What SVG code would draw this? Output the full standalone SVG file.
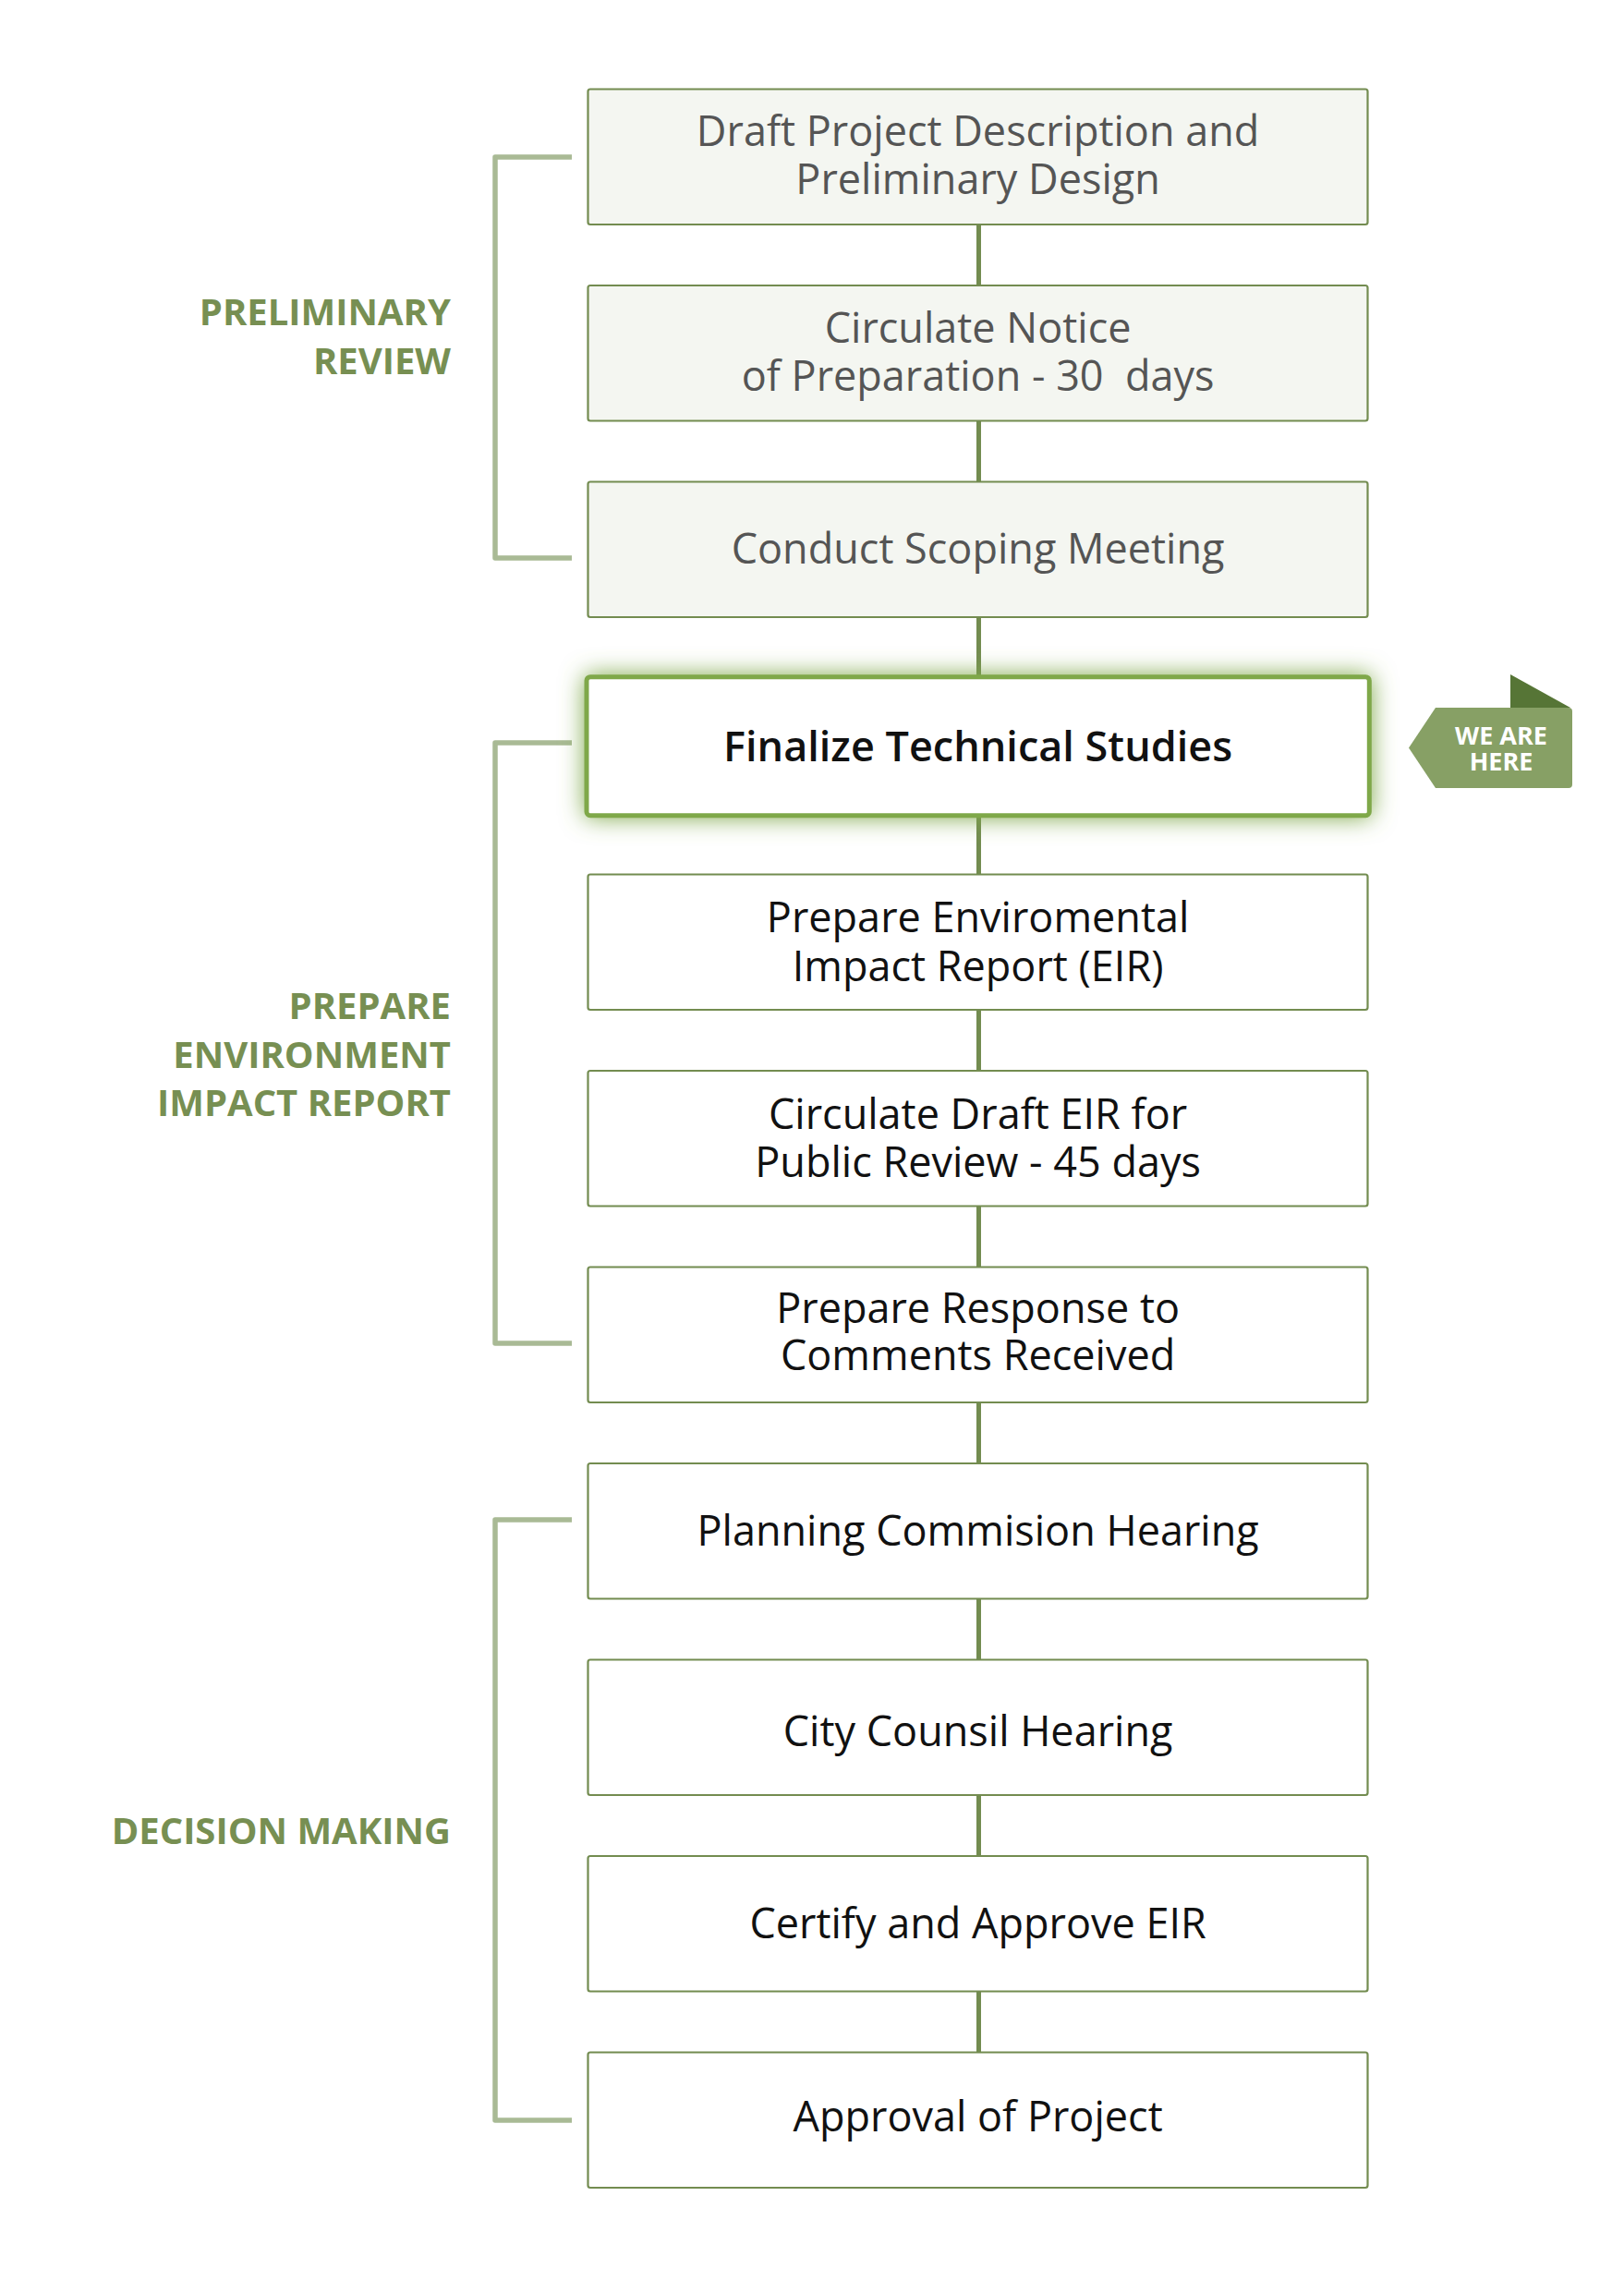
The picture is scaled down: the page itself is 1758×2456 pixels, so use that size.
<svg xmlns="http://www.w3.org/2000/svg" width="1758" height="2456" viewBox="0 0 1758 2456">
<defs>
<style>
.box{fill:#ffffff;stroke:#738c50;stroke-width:2.2}
.pre{fill:#f4f6f1}
.t{font-family:"Open Sans","Noto Sans","Liberation Sans",sans-serif;font-size:45px;text-anchor:middle;fill:#111111}
.g{fill:#555555}
.lab{font-family:"Open Sans","Noto Sans","Liberation Sans",sans-serif;font-size:40px;font-weight:700;text-anchor:end;fill:#778f52}
.conn{stroke:#738c50;stroke-width:5;fill:none}
.br{stroke:#a9ba95;stroke-width:5.5;fill:none;stroke-linejoin:round}
.tag{font-family:"Open Sans","Noto Sans","Liberation Sans",sans-serif;font-size:27px;font-weight:700;text-anchor:middle;fill:#ffffff}
</style>
<filter id="glow" x="-10%" y="-50%" width="120%" height="200%">
<feGaussianBlur in="SourceAlpha" stdDeviation="13" result="b"/>
<feFlood flood-color="#7fa84a" flood-opacity="1"/>
<feComposite in2="b" operator="in" result="gl"/>
<feMerge><feMergeNode in="gl"/><feMergeNode in="SourceGraphic"/></feMerge>
</filter>
</defs>
<rect width="1758" height="2456" fill="#ffffff"/>

<g id="connectors">
<line class="conn" x1="1059.5" y1="243" x2="1059.5" y2="309"/>
<line class="conn" x1="1059.5" y1="455.5" x2="1059.5" y2="521.5"/>
<line class="conn" x1="1059.5" y1="668" x2="1059.5" y2="731"/>
<line class="conn" x1="1059.5" y1="884" x2="1059.5" y2="946.5"/>
<line class="conn" x1="1059.5" y1="1093" x2="1059.5" y2="1159"/>
<line class="conn" x1="1059.5" y1="1305.5" x2="1059.5" y2="1371.5"/>
<line class="conn" x1="1059.5" y1="1518" x2="1059.5" y2="1584"/>
<line class="conn" x1="1059.5" y1="1730.5" x2="1059.5" y2="1796.5"/>
<line class="conn" x1="1059.5" y1="1943" x2="1059.5" y2="2009"/>
<line class="conn" x1="1059.5" y1="2155.5" x2="1059.5" y2="2221.5"/>
</g>

<g id="brackets">
<path class="br" d="M619,170 H536 V604 H619"/>
<path class="br" d="M619,804 H536 V1454 H619"/>
<path class="br" d="M619,1645 H536 V2295 H619"/>
</g>

<g id="label-preliminary">
<text class="lab" x="488" y="352">PRELIMINARY</text>
<text class="lab" x="488" y="404.6">REVIEW</text>
</g>
<g id="label-prepare">
<text class="lab" x="488" y="1103">PREPARE</text>
<text class="lab" x="488" y="1155.7">ENVIRONMENT</text>
<text class="lab" x="488" y="1207.5">IMPACT REPORT</text>
</g>
<g id="label-decision">
<text class="lab" x="488" y="1996">DECISION MAKING</text>
</g>

<g id="n1">
<rect class="box pre" x="636.5" y="96.5" width="844" height="146.5" rx="2.5"/>
<text class="t g" x="1058.6" y="158">Draft Project Description and</text>
<text class="t g" x="1058.6" y="209.5">Preliminary Design</text>
</g>
<g id="n2">
<rect class="box pre" x="636.5" y="309" width="844" height="146.5" rx="2.5"/>
<text class="t g" x="1058.6" y="371">Circulate Notice</text>
<text class="t g" x="1058.6" y="422.5" xml:space="preserve">of Preparation - 30  days</text>
</g>
<g id="n3">
<rect class="box pre" x="636.5" y="521.5" width="844" height="146.5" rx="2.5"/>
<text class="t g" x="1058.6" y="610">Conduct Scoping Meeting</text>
</g>
<g id="n4">
<rect x="635" y="732.7" width="847.3" height="150" rx="4" fill="#ffffff" stroke="#7fa84a" stroke-width="5" filter="url(#glow)"/>
<text class="t" x="1058.6" y="824.3" font-weight="600">Finalize Technical Studies</text>
</g>
<g id="n5">
<rect class="box" x="636.5" y="946.5" width="844" height="146.5" rx="2.5"/>
<text class="t" x="1058.6" y="1009.3">Prepare Enviromental</text>
<text class="t" x="1058.6" y="1061.7">Impact Report (EIR)</text>
</g>
<g id="n6">
<rect class="box" x="636.5" y="1159" width="844" height="146.5" rx="2.5"/>
<text class="t" x="1058.6" y="1221.5">Circulate Draft EIR for</text>
<text class="t" x="1058.6" y="1273.5">Public Review - 45 days</text>
</g>
<g id="n7">
<rect class="box" x="636.5" y="1371.5" width="844" height="146.5" rx="2.5"/>
<text class="t" x="1058.6" y="1432.3">Prepare Response to</text>
<text class="t" x="1058.6" y="1483.3">Comments Received</text>
</g>
<g id="n8">
<rect class="box" x="636.5" y="1584" width="844" height="146.5" rx="2.5"/>
<text class="t" x="1058.6" y="1673">Planning Commision Hearing</text>
</g>
<g id="n9">
<rect class="box" x="636.5" y="1796.5" width="844" height="146.5" rx="2.5"/>
<text class="t" x="1058.6" y="1890">City Counsil Hearing</text>
</g>
<g id="n10">
<rect class="box" x="636.5" y="2009" width="844" height="146.5" rx="2.5"/>
<text class="t" x="1058.6" y="2097.7">Certify and Approve EIR</text>
</g>
<g id="n11">
<rect class="box" x="636.5" y="2221.5" width="844" height="146.5" rx="2.5"/>
<text class="t" x="1058.6" y="2306.7">Approval of Project</text>
</g>

<g id="we-are-here">
<polygon points="1635,730 1700,766 1635,766" fill="#567536"/>
<path d="M1554,766 H1698 Q1702,766 1702,770 V849 Q1702,853 1698,853 H1554 L1525,809.5 Z" fill="#87a065"/>
<text class="tag" x="1625" y="806">WE ARE</text>
<text class="tag" x="1625" y="834">HERE</text>
</g>
</svg>
